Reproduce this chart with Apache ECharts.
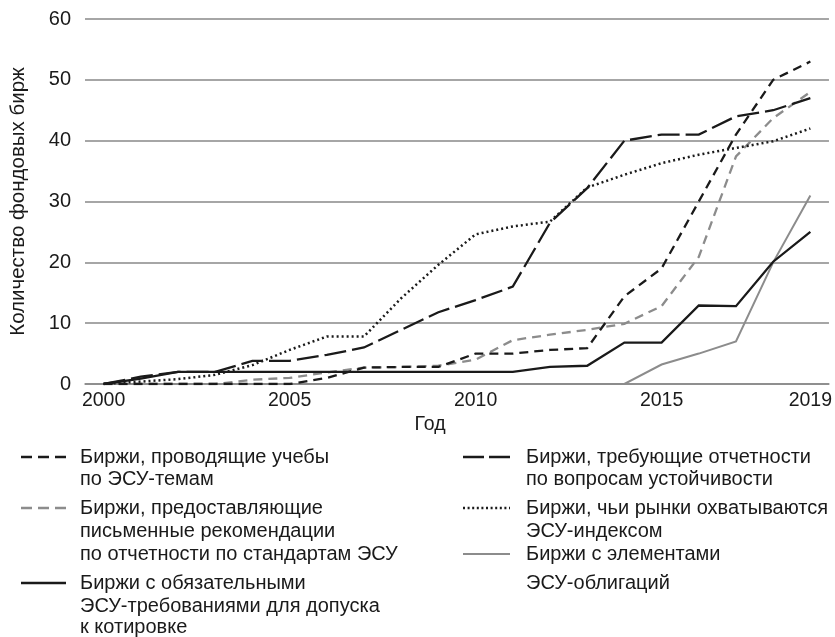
<!DOCTYPE html>
<html>
<head>
<meta charset="utf-8">
<script src="https://cdn.jsdelivr.net/npm/echarts@6/dist/echarts.min.js"></script>
<style>
html,body{margin:0;padding:0;background:#fff;}
#chart{width:835px;height:637px;}
</style>
</head>
<body>
<div id="chart"></div>
<script>
// ---- data ----
var years = ['2000','2001','2002','2003','2004','2005','2006','2007','2008','2009','2010','2011','2012','2013','2014','2015','2016','2017','2018','2019'];
var yTicks = [0, 10, 20, 30, 40, 50, 60];
var trainings = [0,0,0,0,0,0,1,2.7,2.8,2.8,5,5,5.6,5.9,14.4,19,30,41,50,53];
var guidance  = [0,0,0,0,0.7,1,1.9,2.7,2.8,3,4,7.2,8.1,8.9,9.9,12.8,20.9,37.4,43.7,48];
var listing   = [0,0.9,2,2,2,2,2,2,2,2,2,2,2.8,3,6.8,6.8,12.9,12.8,20.1,25];
var reporting = [0,1.2,2,2,3.8,3.8,4.8,6,8.9,11.8,13.8,16,26.5,32.2,40,41,41,44,45,47];
var indexCov  = [0,0.4,0.8,1.5,3.1,5.6,7.8,7.8,14.1,19.6,24.6,25.9,26.7,32.3,34.4,36.3,37.7,38.8,39.9,42];
var bonds     = [0,0,0,0,0,0,0,0,0,0,0,0,0,0,0,3.2,5,7,20,31];
var shownYears = ['2000','2005','2010','2015','2019'];
var xTitle = 'Год';
var yTitle = 'Количество фондовых бирж';

var names = {
  trainings: ['Биржи, проводящие учебы', 'по ЭСУ-темам'],
  guidance: ['Биржи, предоставляющие', 'письменные рекомендации', 'по отчетности по стандартам ЭСУ'],
  listing: ['Биржи с обязательными', 'ЭСУ-требованиями для допуска', 'к котировке'],
  reporting: ['Биржи, требующие отчетности', 'по вопросам устойчивости'],
  indexCov: ['Биржи, чьи рынки охватываются', 'ЭСУ-индексом'],
  bonds: ['Биржи с элементами', 'ЭСУ-облигаций']
};

var FONT = 'Liberation Sans, Arial, sans-serif';
var BLACK = '#1a1a1a', GRAY = '#8c8c8c';
var styles = {
  trainings: {color: BLACK, width: 2.3, dash: [9, 6], icon: [11, 6]},
  guidance:  {color: GRAY,  width: 2.3, dash: [9, 6], icon: [11, 6]},
  listing:   {color: BLACK, width: 2.3, dash: null, icon: null},
  reporting: {color: BLACK, width: 2.3, dash: [22, 6], icon: [21, 5]},
  indexCov:  {color: BLACK, width: 2.5, dash: [2, 3], icon: [2, 2.6]},
  bonds:     {color: GRAY,  width: 2.0, dash: null, icon: null}
};
var dataMap = {trainings: trainings, guidance: guidance, listing: listing, reporting: reporting, indexCov: indexCov, bonds: bonds};
var order = ['bonds','guidance','listing','indexCov','reporting','trainings'];

var series = order.map(function (k) {
  var s = styles[k];
  return {
    name: names[k].join(' '),
    type: 'line',
    data: dataMap[k],
    symbol: 'none',
    silent: true,
    lineStyle: {color: s.color, width: s.width, type: s.dash ? s.dash : 'solid', cap: 'butt', join: 'miter'}
  };
});

// ---- legend drawn as graphic ----
var graphics = [];
function legendItem(key, x1, x2, tx, lineYs) {
  var s = styles[key];
  graphics.push({
    type: 'line', shape: {x1: x1, y1: lineYs[0], x2: x2, y2: lineYs[0]},
    style: {stroke: s.color, lineWidth: s.width, lineDash: s.icon ? s.icon : null}, silent: true
  });
  names[key].forEach(function (t, i) {
    graphics.push({
      type: 'text', x: tx, y: lineYs[i],
      style: {text: t, fill: '#1a1a1a', font: '20px ' + FONT, textVerticalAlign: 'middle', textAlign: 'left'},
      silent: true
    });
  });
}
var L = [457, 479, 508, 531, 554, 583, 606, 627];
legendItem('trainings', 21, 66, 80, [L[0], L[1]]);
legendItem('guidance', 21, 66, 80, [L[2], L[3], L[4]]);
legendItem('listing', 21, 66, 80, [L[5], L[6], L[7]]);
legendItem('reporting', 463, 510, 526, [L[0], L[1]]);
legendItem('indexCov', 463, 510, 526, [L[2], L[3]]);
legendItem('bonds', 463, 510, 526, [L[4], L[5]]);
graphics.push({
  type: 'text', x: 430, y: 425,
  style: {text: xTitle, fill: '#1a1a1a', font: '19.5px ' + FONT, textVerticalAlign: 'middle', textAlign: 'center'},
  silent: true
});

var chart = echarts.init(document.getElementById('chart'), null, {renderer: 'canvas'});
chart.setOption({
  animation: false,
  backgroundColor: '#fff',
  grid: {left: 85, right: 4, top: 19, bottom: 253, containLabel: false},
  xAxis: {
    type: 'category',
    data: years,
    boundaryGap: true,
    axisTick: {show: false},
    axisLine: {show: true, lineStyle: {color: '#888', width: 1.5}},
    axisLabel: {
      interval: function (i, v) { return shownYears.indexOf(v) >= 0; },
      color: '#1a1a1a', fontSize: 19.5, fontFamily: FONT, margin: 7
    }
  },
  yAxis: {
    type: 'value',
    min: yTicks[0], max: yTicks[yTicks.length - 1], interval: 10,
    axisLine: {show: false},
    axisTick: {show: false},
    splitLine: {show: true, lineStyle: {color: '#888', width: 1.5}},
    axisLabel: {color: '#1a1a1a', fontSize: 20, fontFamily: FONT, margin: 14},
    name: yTitle, nameLocation: 'middle', nameGap: 56, nameRotate: 90,
    nameTextStyle: {color: '#1a1a1a', fontSize: 20.5, fontFamily: FONT}
  },
  series: series,
  graphic: graphics
});
</script>
</body>
</html>
